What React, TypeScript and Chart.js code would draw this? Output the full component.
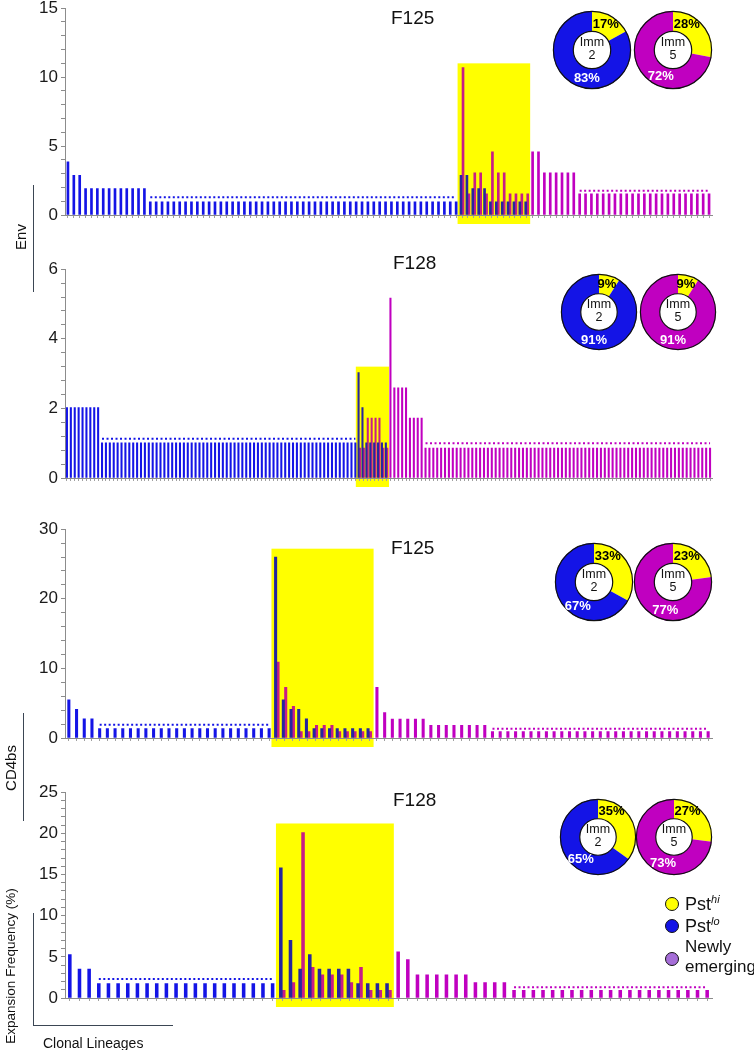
import React, { useEffect, useRef } from "react";
import { Chart, registerables } from "chart.js";

Chart.register(...registerables);

const FONT = "'Liberation Sans', Arial, Helvetica, sans-serif";
const BLUE = "#1414e6";
const MAGENTA = "#c000c0";
const BLUE_HL = "#26269e";
const MAGENTA_HL = "#c81c86";
const YELLOW = "#ffff00";
const PURPLE_LEGEND = "#a66ed8";
const AXIS_GRAY = "#8c8c8c";
const SIDE_LINE = "#3b4654";

// ---------------- Env F125 ----------------
const envF125Imm2Only = [
  3.85, 2.88, 2.88,
  1.92, 1.92, 1.92, 1.92, 1.92, 1.92, 1.92, 1.92, 1.92, 1.92, 1.92,
  0.96, 0.96, 0.96, 0.96, 0.96, 0.96, 0.96, 0.96, 0.96, 0.96,
  0.96, 0.96, 0.96, 0.96, 0.96, 0.96, 0.96, 0.96, 0.96, 0.96,
  0.96, 0.96, 0.96, 0.96, 0.96, 0.96, 0.96, 0.96, 0.96, 0.96,
  0.96, 0.96, 0.96, 0.96, 0.96, 0.96, 0.96, 0.96, 0.96, 0.96,
  0.96, 0.96, 0.96, 0.96, 0.96, 0.96, 0.96, 0.96, 0.96, 0.96,
  0.96, 0.96, 0.96,
];
const envF125SharedImm2 = [2.88, 2.88, 1.92, 1.92, 1.92, 0.96, 0.96, 0.96, 0.96, 0.96, 0.96, 0.96];
const envF125SharedImm5 = [10.7, 1.53, 3.05, 3.05, 1.53, 4.58, 3.05, 3.05, 1.53, 1.53, 1.53, 1.53];
const envF125Imm5Only = [
  4.58, 4.58,
  3.05, 3.05, 3.05, 3.05, 3.05, 3.05,
  1.53, 1.53, 1.53, 1.53, 1.53, 1.53, 1.53, 1.53, 1.53, 1.53,
  1.53, 1.53, 1.53, 1.53, 1.53, 1.53, 1.53, 1.53, 1.53, 1.53,
  1.53, 1.53, 1.53,
];
const envF125MeanLevels = [1.28, 1.75];
const envF125HighlightTop = 11;
const envF125PstHi = [17, 28];

// ---------------- Env F128 ----------------
const envF128Imm2Only = [
  2.02, 2.02, 2.02, 2.02, 2.02, 2.02, 2.02, 2.02, 2.02,
  1.01, 1.01, 1.01, 1.01, 1.01, 1.01, 1.01, 1.01, 1.01, 1.01,
  1.01, 1.01, 1.01, 1.01, 1.01, 1.01, 1.01, 1.01, 1.01, 1.01,
  1.01, 1.01, 1.01, 1.01, 1.01, 1.01, 1.01, 1.01, 1.01, 1.01,
  1.01, 1.01, 1.01, 1.01, 1.01, 1.01, 1.01, 1.01, 1.01, 1.01,
  1.01, 1.01, 1.01, 1.01, 1.01, 1.01, 1.01, 1.01, 1.01, 1.01,
  1.01, 1.01, 1.01, 1.01, 1.01, 1.01, 1.01, 1.01, 1.01, 1.01,
  1.01, 1.01, 1.01, 1.01, 1.01, 1.01,
];
const envF128SharedImm2 = [3.03, 2.02, 1.01, 1.01, 1.01, 1.01, 1.01, 1.01];
const envF128SharedImm5 = [0.86, 0.86, 1.72, 1.72, 1.72, 1.72, 0.86, 0.86];
const envF128Imm5Only = [
  5.17,
  2.59, 2.59, 2.59, 2.59,
  1.72, 1.72, 1.72, 1.72,
  0.86, 0.86, 0.86, 0.86, 0.86, 0.86, 0.86, 0.86, 0.86, 0.86,
  0.86, 0.86, 0.86, 0.86, 0.86, 0.86, 0.86, 0.86, 0.86, 0.86,
  0.86, 0.86, 0.86, 0.86, 0.86, 0.86, 0.86, 0.86, 0.86, 0.86,
  0.86, 0.86, 0.86, 0.86, 0.86, 0.86, 0.86, 0.86, 0.86, 0.86,
  0.86, 0.86, 0.86, 0.86, 0.86, 0.86, 0.86, 0.86, 0.86, 0.86,
  0.86, 0.86, 0.86, 0.86, 0.86, 0.86, 0.86, 0.86, 0.86, 0.86,
  0.86, 0.86, 0.86, 0.86, 0.86, 0.86, 0.86, 0.86, 0.86, 0.86,
  0.86, 0.86, 0.86, 0.86,
];
const envF128MeanLevels = [1.13, 1.0];
const envF128HighlightTop = 3.2;
const envF128PstHi = [9, 9];

// ---------------- CD4bs F125 ----------------
const cd4F125Imm2Only = [
  5.48, 4.11, 2.74, 2.74,
  1.37, 1.37, 1.37, 1.37, 1.37, 1.37, 1.37, 1.37, 1.37, 1.37,
  1.37, 1.37, 1.37, 1.37, 1.37, 1.37, 1.37, 1.37, 1.37, 1.37,
  1.37, 1.37, 1.37,
];
const cd4F125SharedImm2 = [26.0, 5.48, 4.11, 4.11, 2.74, 1.37, 1.37, 1.37, 1.37, 1.37, 1.37, 1.37, 1.37];
const cd4F125SharedImm5 = [10.9, 7.27, 4.55, 0.91, 0.91, 1.82, 1.82, 1.82, 0.91, 0.91, 0.91, 0.91, 0.91];
const cd4F125Imm5Only = [
  7.27, 3.64,
  2.73, 2.73, 2.73, 2.73, 2.73,
  1.82, 1.82, 1.82, 1.82, 1.82, 1.82, 1.82, 1.82,
  0.91, 0.91, 0.91, 0.91, 0.91, 0.91, 0.91, 0.91, 0.91, 0.91,
  0.91, 0.91, 0.91, 0.91, 0.91, 0.91, 0.91, 0.91, 0.91, 0.91,
  0.91, 0.91, 0.91, 0.91, 0.91, 0.91, 0.91, 0.91, 0.91,
];
const cd4F125MeanLevels = [1.9, 1.33];
const cd4F125HighlightTop = 27.2;
const cd4F125PstHi = [33, 23];

// ---------------- CD4bs F128 ----------------
const cd4F128Imm2Only = [
  5.26, 3.51, 3.51,
  1.75, 1.75, 1.75, 1.75, 1.75, 1.75, 1.75, 1.75, 1.75, 1.75,
  1.75, 1.75, 1.75, 1.75, 1.75, 1.75, 1.75, 1.75, 1.75,
];
const cd4F128SharedImm2 = [15.8, 7.02, 3.51, 5.26, 3.51, 3.51, 3.51, 3.51, 1.75, 1.75, 1.75, 1.75];
const cd4F128SharedImm5 = [0.93, 1.87, 20.1, 3.74, 2.8, 2.8, 2.8, 1.87, 3.74, 0.93, 0.93, 0.93];
const cd4F128Imm5Only = [
  5.6, 4.67,
  2.8, 2.8, 2.8, 2.8, 2.8, 2.8,
  1.87, 1.87, 1.87, 1.87,
  0.93, 0.93, 0.93, 0.93, 0.93, 0.93, 0.93, 0.93, 0.93, 0.93,
  0.93, 0.93, 0.93, 0.93, 0.93, 0.93, 0.93, 0.93, 0.93, 0.93,
  0.93,
];
const cd4F128MeanLevels = [2.3, 1.3];
const cd4F128HighlightTop = 21.2;
const cd4F128PstHi = [35, 27];

const panelTitles = ["F125", "F128", "F125", "F128"];
const yMaxes = [15, 6, 30, 25];
const yMinorSteps = [1, 0.4, 2, 1];
const yLabelSteps = [5, 2, 10, 5];
const immunizations = ["2", "5"];

const PANELS = [
  { imm2Only: envF125Imm2Only, sharedImm2: envF125SharedImm2, sharedImm5: envF125SharedImm5, imm5Only: envF125Imm5Only, means: envF125MeanLevels, hlTop: envF125HighlightTop, pstHi: envF125PstHi },
  { imm2Only: envF128Imm2Only, sharedImm2: envF128SharedImm2, sharedImm5: envF128SharedImm5, imm5Only: envF128Imm5Only, means: envF128MeanLevels, hlTop: envF128HighlightTop, pstHi: envF128PstHi },
  { imm2Only: cd4F125Imm2Only, sharedImm2: cd4F125SharedImm2, sharedImm5: cd4F125SharedImm5, imm5Only: cd4F125Imm5Only, means: cd4F125MeanLevels, hlTop: cd4F125HighlightTop, pstHi: cd4F125PstHi },
  { imm2Only: cd4F128Imm2Only, sharedImm2: cd4F128SharedImm2, sharedImm5: cd4F128SharedImm5, imm5Only: cd4F128Imm5Only, means: cd4F128MeanLevels, hlTop: cd4F128HighlightTop, pstHi: cd4F128PstHi },
];

// ---------------- layout (styles only) ----------------
const PAD_TOP = 12;
const X_AXIS_H = 14;
const AREA_RIGHT = 712;
const LAYOUT = [
  { areaTop: 7, areaBottom: 215, bar: 2.0, titleX: 391, titleY: 18, donutY: 50, donutX: [591.8, 672.6], donutR: 39 },
  { areaTop: 268, areaBottom: 478, bar: 1.4, titleX: 393, titleY: 263, donutY: 311.7, donutX: [598.7, 677.7], donutR: 38 },
  { areaTop: 528, areaBottom: 738, bar: 2.4, titleX: 391, titleY: 548, donutY: 582.2, donutX: [594.2, 672.8], donutR: 39 },
  { areaTop: 791, areaBottom: 998, bar: 2.9, titleX: 393, titleY: 800, donutY: 836.8, donutX: [597.8, 673.7], donutR: 38 },
];

function BarPanel({ idx }: { idx: number }) {
  const ref = useRef<HTMLCanvasElement | null>(null);
  const p = PANELS[idx];
  const l = LAYOUT[idx];
  const height = l.areaBottom - l.areaTop + PAD_TOP + X_AXIS_H;

  useEffect(() => {
    const n2 = p.imm2Only.length;
    const ns = p.sharedImm2.length;
    const n5 = p.imm5Only.length;
    const labels = Array.from({ length: n2 + ns + n5 }, (_, i) => "Lineage " + (i + 1));
    const blueSingle = labels.map((_, i) => (i < n2 ? p.imm2Only[i] : null));
    const bluePair = labels.map((_, i) => (i >= n2 && i < n2 + ns ? p.sharedImm2[i - n2] : null));
    const magentaPair = labels.map((_, i) => (i >= n2 && i < n2 + ns ? p.sharedImm5[i - n2] : null));
    const magentaSingle = labels.map((_, i) => (i >= n2 + ns ? p.imm5Only[i - n2 - ns] : null));
    const min2 = Math.min(...p.imm2Only);
    const min5 = Math.min(...p.imm5Only);
    const blueMean = labels.map((_, i) => (i < n2 && p.imm2Only[i] === min2 ? p.means[0] : null));
    const magentaMean = labels.map((_, i) =>
      i >= n2 + ns && p.imm5Only[i - n2 - ns] === min5 ? p.means[1] : null
    );
    const labelStep = yLabelSteps[idx];

    const highlight = {
      id: "highlight" + idx,
      beforeDraw(chart: any) {
        const xs = chart.scales.x;
        const ys = chart.scales.y;
        const half = (xs.getPixelForValue(1) - xs.getPixelForValue(0)) / 2;
        const left = xs.getPixelForValue(n2) - half - 1.5;
        const right = xs.getPixelForValue(n2 + ns - 1) + half + 0.5;
        const top = ys.getPixelForValue(p.hlTop);
        const bottom = chart.chartArea.bottom + 9;
        const ctx = chart.ctx;
        ctx.save();
        ctx.fillStyle = YELLOW;
        ctx.fillRect(left, top, right - left, bottom - top);
        ctx.restore();
      },
    };

    const barCommon = { barThickness: l.bar, borderWidth: 0, skipNull: true };
    const lineCommon = {
      type: "line" as const,
      borderWidth: 2,
      borderDash: [2, 2.5],
      pointRadius: 0,
      fill: false,
      spanGaps: false,
      tension: 0,
    };

    const chart = new Chart(ref.current as HTMLCanvasElement, {
      type: "bar",
      data: {
        labels,
        datasets: [
          { ...lineCommon, label: "Imm 2 level", data: blueMean, borderColor: BLUE },
          { ...lineCommon, label: "Imm 5 level", data: magentaMean, borderColor: MAGENTA },
          { ...barCommon, label: "Imm 2 shared", data: bluePair, backgroundColor: BLUE_HL },
          { ...barCommon, label: "Imm 5 shared", data: magentaPair, backgroundColor: MAGENTA_HL },
          { ...barCommon, label: "Imm 2", data: blueSingle, backgroundColor: BLUE },
          { ...barCommon, label: "Imm 5", data: magentaSingle, backgroundColor: MAGENTA },
        ] as any,
      },
      options: {
        responsive: false,
        animation: false,
        layout: { padding: { top: PAD_TOP, right: 754 - AREA_RIGHT, left: 0, bottom: 0 } },
        plugins: { legend: { display: false }, tooltip: { enabled: false }, title: { display: false } },
        scales: {
          x: {
            type: "category",
            offset: true,
            afterFit: (s: any) => {
              s.height = X_AXIS_H;
            },
            ticks: { display: false, autoSkip: false },
            grid: { offset: false, drawOnChartArea: false, drawTicks: true, tickLength: 3, color: "#a0a0a0" },
            border: { color: AXIS_GRAY, width: 1 },
          },
          y: {
            min: 0,
            max: yMaxes[idx],
            afterFit: (s: any) => {
              s.width = 65;
            },
            ticks: {
              stepSize: yMinorSteps[idx],
              autoSkip: false,
              padding: 3,
              color: "#1a1a1a",
              font: { family: FONT, size: 17 },
              callback: (v: any) => {
                const q = Number(v) / labelStep;
                return Math.abs(q - Math.round(q)) < 1e-6 ? String(Math.round(Number(v))) : "";
              },
            },
            grid: { drawOnChartArea: false, drawTicks: true, tickLength: 4, color: AXIS_GRAY },
            border: { color: AXIS_GRAY, width: 1 },
          },
        },
      } as any,
      plugins: [highlight],
    });
    return () => chart.destroy();
  }, []);

  return (
    <canvas
      ref={ref}
      width={754}
      height={height}
      style={{ position: "absolute", left: 0, top: l.areaTop - PAD_TOP, width: 754, height }}
    />
  );
}

function Donut({ cx, cy, r, pct, color, imm }: { cx: number; cy: number; r: number; pct: number; color: string; imm: string }) {
  const ref = useRef<HTMLCanvasElement | null>(null);
  const size = Math.round(2 * r + 4);
  useEffect(() => {
    const labelPlugin = {
      id: "donutLabels",
      afterDraw(chart: any) {
        const arc = chart.getDatasetMeta(0).data[0];
        const { x, y, outerRadius, innerRadius } = arc.getProps(["x", "y", "outerRadius", "innerRadius"], true);
        const ctx = chart.ctx;
        ctx.save();
        ctx.strokeStyle = "#111";
        ctx.lineWidth = 1.2;
        ctx.beginPath();
        ctx.arc(x, y, outerRadius - 0.4, 0, Math.PI * 2);
        ctx.stroke();
        ctx.beginPath();
        ctx.arc(x, y, innerRadius, 0, Math.PI * 2);
        ctx.stroke();
        const mid = (outerRadius + innerRadius) / 2 + 0.5;
        ctx.textAlign = "center";
        ctx.textBaseline = "middle";
        const aHi = (Math.min((pct * 3.6) / 2, 28) * Math.PI) / 180;
        ctx.font = `bold 13px ${FONT}`;
        ctx.fillStyle = "#000";
        ctx.fillText(pct + "%", x + mid * Math.sin(aHi), y - mid * Math.cos(aHi));
        const aLo = ((190 + Math.max(0, pct - 20) * 1.8) * Math.PI) / 180;
        ctx.fillStyle = "#fff";
        ctx.fillText(100 - pct + "%", x + mid * Math.sin(aLo), y - mid * Math.cos(aLo));
        ctx.font = `12.5px ${FONT}`;
        ctx.fillStyle = "#111";
        ctx.fillText("Imm", x, y - 7);
        ctx.fillText(imm, x, y + 6);
        ctx.restore();
      },
    };
    const chart = new Chart(ref.current as HTMLCanvasElement, {
      type: "doughnut",
      data: {
        labels: ["Pst hi", "Pst lo"],
        datasets: [{ data: [pct, 100 - pct], backgroundColor: [YELLOW, color], borderWidth: 0 }],
      },
      options: {
        responsive: false,
        animation: false,
        cutout: "48%",
        layout: { padding: 2 },
        plugins: { legend: { display: false }, tooltip: { enabled: false } },
      } as any,
      plugins: [labelPlugin],
    });
    return () => chart.destroy();
  }, []);
  return (
    <canvas
      ref={ref}
      width={size}
      height={size}
      style={{ position: "absolute", left: cx - size / 2, top: cy - size / 2, width: size, height: size }}
    />
  );
}

function Rotated({ text, cx, cy, size }: { text: string; cx: number; cy: number; size: number }) {
  return (
    <div
      style={{
        position: "absolute",
        left: cx,
        top: cy,
        transform: "translate(-50%, -50%) rotate(-90deg)",
        font: `${size}px ${FONT}`,
        color: "#111",
        whiteSpace: "nowrap",
        lineHeight: 1,
      }}
    >
      {text}
    </div>
  );
}

function Line({ left, top, width, height }: { left: number; top: number; width: number; height: number }) {
  return <div style={{ position: "absolute", left, top, width, height, background: SIDE_LINE }} />;
}

function LegendDot({ cx, cy, color }: { cx: number; cy: number; color: string }) {
  return (
    <div
      style={{
        position: "absolute",
        left: cx - 7,
        top: cy - 7,
        width: 14,
        height: 14,
        borderRadius: "50%",
        background: color,
        border: "1.5px solid #111",
        boxSizing: "border-box",
      }}
    />
  );
}

const supStyle = { fontSize: 11, fontStyle: "italic" as const, position: "relative" as const, top: -7, lineHeight: 0 };

export default function App() {
  return (
    <div
      style={{
        position: "absolute",
        left: 0,
        top: 0,
        width: 754,
        height: 1050,
        background: "#fff",
        overflow: "hidden",
        fontFamily: FONT,
      }}
    >
      {PANELS.map((_, i) => (
        <BarPanel key={"bar" + i} idx={i} />
      ))}
      {LAYOUT.map((l, i) => (
        <div
          key={"t" + i}
          style={{ position: "absolute", left: l.titleX, top: l.titleY - 11, font: `19px ${FONT}`, lineHeight: "22px", color: "#111" }}
        >
          {panelTitles[i]}
        </div>
      ))}
      {LAYOUT.map((l, i) =>
        immunizations.map((imm, j) => (
          <Donut
            key={"d" + i + j}
            cx={l.donutX[j]}
            cy={l.donutY}
            r={l.donutR}
            pct={PANELS[i].pstHi[j]}
            color={j === 0 ? BLUE : MAGENTA}
            imm={imm}
          />
        ))
      )}

      <Rotated text="Env" cx={20} cy={237} size={15} />
      <Line left={32.5} top={185} width={1.5} height={107} />
      <Rotated text="CD4bs" cx={10} cy={768} size={15} />
      <Line left={22.5} top={713} width={1.5} height={108} />
      <Rotated text="Expansion Frequency (%)" cx={11} cy={966} size={13.5} />
      <Line left={32.5} top={913} width={1.5} height={113} />
      <Line left={32.5} top={1024.5} width={140} height={1.5} />
      <div style={{ position: "absolute", left: 43, top: 1034, font: `14px ${FONT}`, lineHeight: "18px", color: "#111" }}>
        Clonal Lineages
      </div>

      <LegendDot cx={671.5} cy={904} color={YELLOW} />
      <LegendDot cx={671.5} cy={925.7} color={BLUE} />
      <LegendDot cx={671.5} cy={959} color={PURPLE_LEGEND} />
      <div style={{ position: "absolute", left: 685, top: 893, font: `18px ${FONT}`, lineHeight: "22px", color: "#111", whiteSpace: "nowrap" }}>
        Pst<span style={supStyle}>hi</span>
      </div>
      <div style={{ position: "absolute", left: 685, top: 914.7, font: `18px ${FONT}`, lineHeight: "22px", color: "#111", whiteSpace: "nowrap" }}>
        Pst<span style={supStyle}>lo</span>
      </div>
      <div style={{ position: "absolute", left: 685, top: 937.3, font: `17px ${FONT}`, lineHeight: "20px", color: "#111", whiteSpace: "nowrap" }}>
        Newly
        <br />
        emerging
      </div>
    </div>
  );
}
